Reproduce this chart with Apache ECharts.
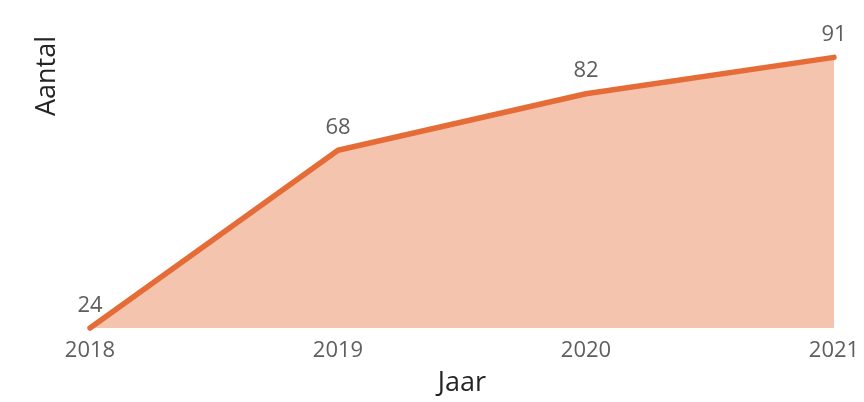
<!DOCTYPE html>
<html>
<head>
<meta charset="utf-8">
<script src="https://cdn.jsdelivr.net/npm/echarts@6/dist/echarts.min.js"></script>
<style>
  html, body { margin: 0; padding: 0; background: #ffffff; }
  #chart { width: 864px; height: 402px; }
</style>
</head>
<body>
<div id="chart"></div>
<script>
// Jaren en aantallen
const years = ['2018', '2019', '2020', '2021'];
const counts = [24, 68, 82, 91];
const yMin = 24;
const yMax = 100;

const FONT = '"Open Sans", "Noto Sans", sans-serif';
const LINE = '#E66C37';

const chart = echarts.init(document.getElementById('chart'), null, { renderer: 'canvas' });

chart.setOption({
  backgroundColor: '#ffffff',
  animation: false,
  grid: { left: 90, right: 30, top: 21, bottom: 74 },
  xAxis: {
    type: 'category',
    data: years,
    boundaryGap: false,
    name: 'Jaar',
    nameLocation: 'middle',
    nameGap: 42,
    nameTextStyle: { color: '#252423', fontSize: 27, fontFamily: FONT, fontWeight: 500 },
    axisLine: { show: false },
    axisTick: { show: false },
    splitLine: { show: false },
    axisLabel: { color: '#605E5C', fontSize: 22, fontFamily: FONT, margin: 12 }
  },
  yAxis: {
    type: 'value',
    min: yMin,
    max: yMax,
    show: false
  },
  graphic: [{
    type: 'text',
    x: 47,
    y: 76,
    rotation: Math.PI / 2,
    style: {
      text: 'Aantal',
      fill: '#252423',
      fontSize: 27,
      fontWeight: 500,
      fontFamily: FONT,
      align: 'center',
      verticalAlign: 'middle'
    }
  }],
  series: [{
    type: 'line',
    data: counts,
    symbol: 'circle',
    symbolSize: 1,
    showSymbol: true,
    itemStyle: { color: 'rgba(0,0,0,0)', borderWidth: 0 },
    lineStyle: { color: LINE, width: 5.5, cap: 'round', join: 'round' },
    areaStyle: { color: LINE, opacity: 0.4, origin: 'start' },
    clip: false,
    label: {
      show: true,
      position: 'top',
      distance: 11,
      color: '#605E5C',
      fontSize: 22,
      fontFamily: FONT
    }
  }]
});
</script>
</body>
</html>
